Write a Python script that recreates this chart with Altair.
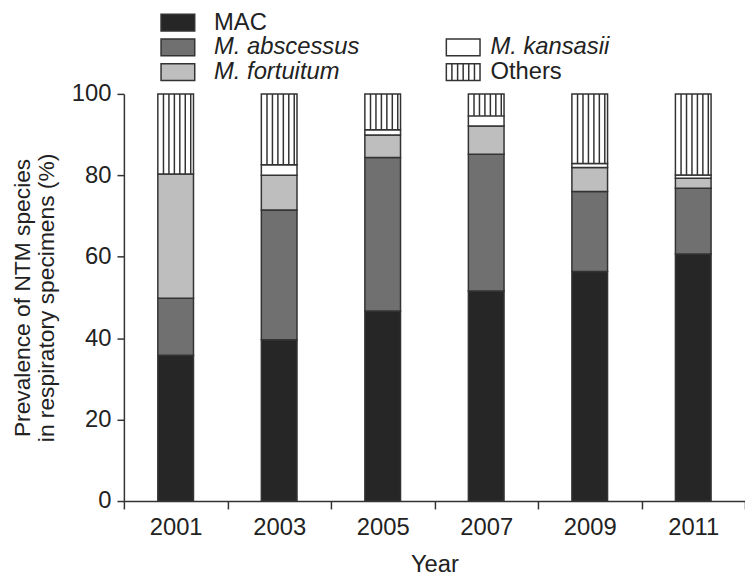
import altair as alt
import pandas as pd

years = ["2001", "2003", "2005", "2007", "2009", "2011"]
species = ["MAC", "M. abscessus", "M. fortuitum", "M. kansasii", "Others"]
mac = [35.8, 39.6, 46.7, 51.6, 56.4, 60.7]
abscessus = [14.0, 31.9, 37.7, 33.6, 19.6, 16.1]
fortuitum = [30.5, 8.5, 5.5, 6.9, 5.9, 2.5]
kansasii = [0.0, 2.6, 1.3, 2.5, 1.0, 0.8]
others = [19.7, 17.4, 8.8, 5.4, 17.1, 19.9]
fills = ["#262626", "#707070", "#bebebe", "#ffffff", "#ffffff"]

legend_col = [0, 0, 0, 1, 1]
legend_row = [0, 1, 2, 1, 2]
italic = [False, True, True, True, False]

FONT = "Liberation Sans"
FS = 24
TFS = 23
INK = "#222222"
EDGE = "#333333"

series = [mac, abscessus, fortuitum, kansasii, others]
rows = []
for i, y in enumerate(years):
    base = 0.0
    for s, vals in zip(species, series):
        v = vals[i]
        rows.append({"year": y, "species": s, "value": v, "y0": base, "y1": base + v})
        base += v
df = pd.DataFrame(rows)
df_bars = df[df["value"] > 0]
df_oth = df[df["species"] == "Others"]

fill_scale = alt.Scale(domain=species, range=fills)
xs = alt.Scale(paddingInner=0, paddingOuter=0)

x_axis = alt.Axis(title="Year", labelAngle=0, tickBand="extent", tickSize=8,
                  labelPadding=7, titlePadding=13, domainColor=EDGE, tickColor=EDGE,
                  domainWidth=1.5, tickWidth=1.5, labelFont=FONT, titleFont=FONT,
                  labelFontSize=FS, titleFontSize=FS, titleFontWeight="normal",
                  labelColor=INK, titleColor=INK, grid=False)
y_axis = alt.Axis(title=["Prevalence of NTM species", "in respiratory specimens (%)"],
                  values=[0, 20, 40, 60, 80, 100], tickSize=7, labelPadding=6,
                  titlePadding=13, titleLineHeight=24, domainColor=EDGE, tickColor=EDGE,
                  domainWidth=1.5, tickWidth=1.5, labelFont=FONT, titleFont=FONT,
                  labelFontSize=FS, titleFontSize=TFS, titleFontWeight="normal",
                  labelColor=INK, titleColor=INK, grid=False)

bars = alt.Chart(df_bars).mark_bar(size=36, stroke=EDGE, strokeWidth=1.5).encode(
    x=alt.X("year:N", sort=years, scale=xs, axis=x_axis),
    y=alt.Y("y0:Q", scale=alt.Scale(domain=[0, 100], nice=False), axis=y_axis),
    y2="y1:Q",
    fill=alt.Fill("species:N", scale=fill_scale, legend=None),
)

stripe_offsets = [-12.3, -6.8, -1.3, 4.2, 9.7, 15.2]
stripes = [
    alt.Chart(df_oth).mark_rule(xOffset=k, color=EDGE, strokeWidth=1.5).encode(
        x=alt.X("year:N", sort=years), y="y0:Q", y2="y1:Q")
    for k in stripe_offsets
]
main = alt.layer(bars, *stripes)

leg = pd.DataFrame({"species": species, "col": legend_col, "row": legend_row, "italic": italic})
rect_path = "M-1,-0.5H1V0.5H-1Z"
striped_path = ("M-1,-0.5H1V0.5H-1Z M-0.67,-0.5V0.5 M-0.33,-0.5V0.5 M0,-0.5V0.5 "
                "M0.33,-0.5V0.5 M0.67,-0.5V0.5")
row_scale = alt.Scale(domain=[0, 2], range=[-72, -22])
leg_sym = alt.Chart(leg).mark_point(filled=True, opacity=1, stroke=EDGE, strokeWidth=1.5).encode(
    x=alt.X("col:Q", scale=alt.Scale(domain=[0, 1], range=[54.5, 342.5]), axis=None),
    y=alt.Y("row:Q", scale=row_scale, axis=None),
    fill=alt.Fill("species:N", scale=fill_scale, legend=None),
    shape=alt.Shape("species:N", scale=alt.Scale(domain=species,
                    range=[rect_path] * 4 + [striped_path]), legend=None),
    size=alt.value(1156),
)

tx = alt.X("col:Q", scale=alt.Scale(domain=[0, 1], range=[91, 370]), axis=None)
ty = alt.Y("row:Q", scale=row_scale, axis=None)
txt_it = alt.Chart(leg).transform_filter("datum.italic").mark_text(
    align="left", baseline="middle", font=FONT, fontSize=FS, fontStyle="italic", color=INK
).encode(x=tx, y=ty, text="species:N")
txt_n = alt.Chart(leg).transform_filter("!datum.italic").mark_text(
    align="left", baseline="middle", font=FONT, fontSize=FS, color=INK
).encode(x=tx, y=ty, text="species:N")
legend_text = alt.layer(txt_it, txt_n)

chart = alt.layer(main, leg_sym, legend_text).resolve_scale(
    x="independent", y="independent"
).properties(
    width=627, height=411,
    autosize=alt.AutoSizeParams(type="none"),
    padding={"left": 117, "top": 84, "right": 0, "bottom": 75},
).configure_view(stroke=None)

chart.save("out.html", embed_options={"renderer": "svg", "actions": False})
